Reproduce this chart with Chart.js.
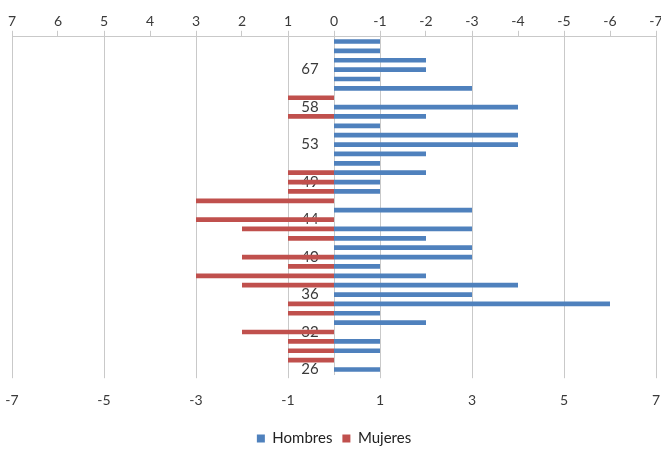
<!DOCTYPE html>
<html>
<head>
<meta charset="utf-8">
<script src="https://cdn.jsdelivr.net/npm/chart.js@4.4.1/dist/chart.umd.min.js"></script>
<style>
  html, body { margin: 0; padding: 0; background: #ffffff; }
  #wrap { width: 661px; height: 449px; }
</style>
</head>
<body>
<div id="wrap"><canvas id="c" width="661" height="449"></canvas></div>
<script>
// Ages (categories), bottom to top; only every 4th is labelled in the chart
const ages = [26, 27, 28, 30, 32, 33, 34, 35, 36, 37, 38, 39, 40, 41, 42, 43, 44, 45, 46, 47,
              49, 50, 51, 52, 53, 54, 55, 56, 58, 60, 62, 64, 67, 68, 70, 72];
// Hombres counts per age (drawn to the right)
const hombres = [1, 0, 1, 1, 0, 2, 1, 6, 3, 4, 2, 1, 3, 3, 2, 3, 0, 3, 0, 1,
                 1, 2, 1, 2, 4, 4, 1, 2, 4, 0, 3, 1, 2, 2, 1, 1];
// Mujeres counts per age (drawn to the left)
const mujeres = [0, 1, 1, 1, 2, 0, 1, 1, 0, 2, 3, 1, 2, 0, 1, 2, 3, 0, 3, 1,
                 1, 1, 0, 0, 0, 0, 0, 1, 0, 1, 0, 0, 0, 0, 0, 0];
// Tick labels
const bottomTicks = [-7, -5, -3, -1, 1, 3, 5, 7];
const topTicks = [7, 6, 5, 4, 3, 2, 1, 0, -1, -2, -3, -4, -5, -6, -7];
const labelEvery = 4;

const FONT = 'Lato, "Open Sans", sans-serif';
const GRID = '#c9c9c9';
const TEXT = '#3a3a3a';

function noSidePad(s) { s.paddingLeft = 0; s.paddingRight = 0; }

new Chart(document.getElementById('c'), {
  type: 'bar',
  data: {
    labels: ages.map(String),
    datasets: [
      { label: 'Hombres', data: hombres, backgroundColor: '#4F81BD', borderWidth: 0,
        xAxisID: 'x', yAxisID: 'y' },
      { label: 'Mujeres', data: mujeres.map(v => -v), backgroundColor: '#C0504D', borderWidth: 0,
        xAxisID: 'x', yAxisID: 'y' }
    ]
  },
  options: {
    indexAxis: 'y',
    responsive: false,
    animation: false,
    devicePixelRatio: 1,
    categoryPercentage: 1,
    barPercentage: 0.5,
    layout: { padding: { top: 12, left: 12, right: 5, bottom: -7 } },
    scales: {
      x: {
        type: 'linear', position: 'bottom', min: -7, max: 7, stacked: true,
        afterBuildTicks: s => { s.ticks = bottomTicks.map(v => ({ value: v })); },
        afterFit: s => { s.height -= 2; noSidePad(s); },
        grid: { color: GRID, lineWidth: 1, tickLength: 4, drawTicks: true },
        border: { display: false },
        ticks: { color: TEXT, font: { family: FONT, size: 14 }, padding: 14, autoSkip: false, maxRotation: 0 }
      },
      x2: {
        type: 'linear', position: 'top', min: -7, max: 7, reverse: true,
        afterBuildTicks: s => { s.ticks = topTicks.map(v => ({ value: v })); },
        afterFit: s => { noSidePad(s); },
        grid: { drawOnChartArea: false, color: GRID, tickLength: 6 },
        border: { display: true, color: GRID },
        ticks: { color: TEXT, font: { family: FONT, size: 14 }, padding: 1, autoSkip: false, maxRotation: 0 }
      },
      y: {
        type: 'category', reverse: true, stacked: true,
        position: { x: 0 },
        afterFit: s => { s.width = 0; },
        grid: { display: false, drawTicks: false },
        border: { display: true, color: GRID },
        ticks: {
          color: TEXT, font: { family: FONT, size: 15 }, padding: 0, autoSkip: false,
          callback: function (val, idx) { return idx % labelEvery === 0 ? this.getLabelForValue(val) + '    ' : ''; }
        }
      }
    },
    plugins: {
      legend: {
        position: 'bottom',
        labels: { boxWidth: 8, boxHeight: 8, color: '#222', font: { family: FONT, size: 15 }, padding: 10 }
      },
      tooltip: { enabled: false }
    }
  }
});
</script>
</body>
</html>
